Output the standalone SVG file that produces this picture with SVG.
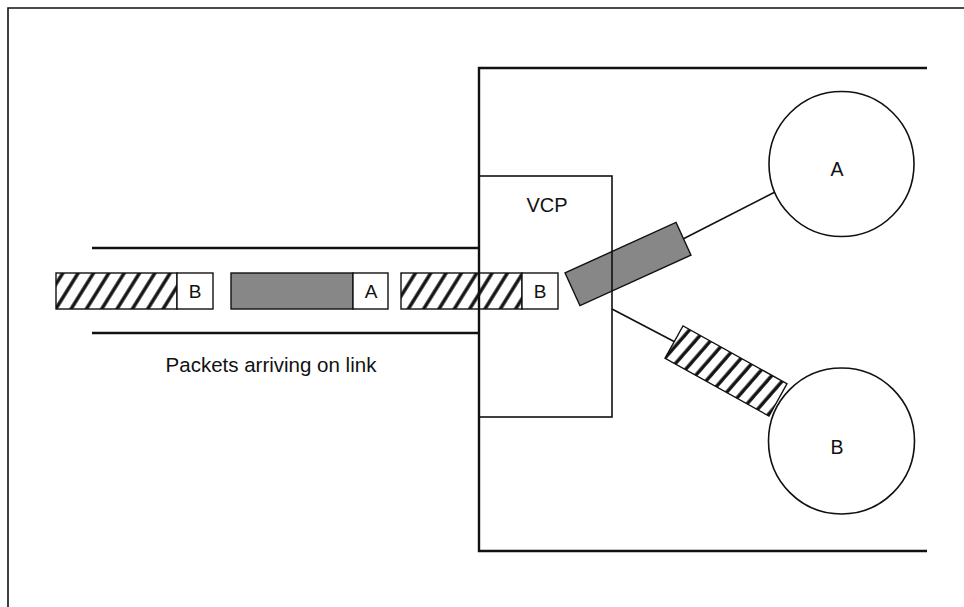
<svg xmlns="http://www.w3.org/2000/svg" width="964" height="607" viewBox="0 0 964 607">
<defs>
<style>
.ln{stroke:#111;fill:none;stroke-width:1.6}
.thick{stroke:#111;fill:none;stroke-width:2.4}
.box{stroke:#111;stroke-width:1.4}
.lbl{font-family:"Liberation Sans",Arial,sans-serif;fill:#111;text-anchor:middle}
</style>
<pattern id="hatch" patternUnits="userSpaceOnUse" width="13" height="13" patternTransform="rotate(32)">
<rect width="13" height="13" fill="#fff"/>
<line x1="3" y1="0" x2="3" y2="13" stroke="#111" stroke-width="3.4"/>
</pattern>
<pattern id="hatch2" patternUnits="userSpaceOnUse" width="11.5" height="11.5" patternTransform="rotate(12)">
<rect width="11.5" height="11.5" fill="#fff"/>
<line x1="3" y1="0" x2="3" y2="11.5" stroke="#111" stroke-width="3.4"/>
</pattern>
</defs>
<rect width="964" height="607" fill="#fff"/>

<g id="frame">
<polyline class="ln" points="8,607 8,8 964,8"/>
</g>

<g id="connectors">
<line class="ln" x1="683" y1="239" x2="775" y2="192" stroke-width="1.3"/>
<line class="ln" x1="612" y1="309" x2="675" y2="342" stroke-width="1.3"/>
</g>

<g id="link">
<line class="thick" x1="92" y1="248" x2="479" y2="248"/>
<line class="thick" x1="92" y1="333" x2="479" y2="333"/>
<text class="lbl" x="271" y="372" font-size="20.5">Packets arriving on link</text>
</g>

<g id="packet1">
<rect class="box" x="56" y="273" width="121" height="36" fill="url(#hatch)"/>
<rect class="box" x="177" y="273" width="36" height="36" fill="#fff"/>
<text class="lbl" x="195" y="298" font-size="19">B</text>
</g>
<g id="packet2">
<rect class="box" x="231" y="273" width="122" height="36" fill="#878787"/>
<rect class="box" x="353" y="273" width="35" height="36" fill="#fff"/>
<text class="lbl" x="371" y="298" font-size="19">A</text>
</g>
<g id="packet3">
<rect class="box" x="401" y="273" width="121" height="36" fill="url(#hatch)"/>
<rect class="box" x="522" y="273" width="36" height="36" fill="#fff"/>
<text class="lbl" x="540" y="298" font-size="19">B</text>
</g>

<g id="packetToA" transform="translate(628,264) rotate(-24.5)">
<rect class="box" x="-61" y="-18" width="122" height="36" fill="#878787"/>
</g>
<g id="packetToB" transform="translate(726,371) rotate(29.1)">
<rect class="box" x="-59.5" y="-18.5" width="119" height="37" fill="url(#hatch2)"/>
</g>

<g id="switch">
<polyline class="thick" stroke-width="2" points="927,68 479,68 479,551 927,551"/>
</g>
<g id="vcp">
<rect class="ln" stroke-width="1.4" x="479" y="176" width="133" height="241"/>
<text class="lbl" x="547" y="212" font-size="20">VCP</text>
</g>

<g id="nodeA">
<circle class="ln" stroke-width="1.4" cx="841.5" cy="164" r="72.5" fill="#fff"/>
<text class="lbl" x="837" y="176" font-size="19.5">A</text>
</g>
<g id="nodeB">
<circle class="ln" stroke-width="1.4" cx="841.5" cy="441" r="73" fill="#fff"/>
<text class="lbl" x="837" y="454" font-size="19.5">B</text>
</g>
</svg>
